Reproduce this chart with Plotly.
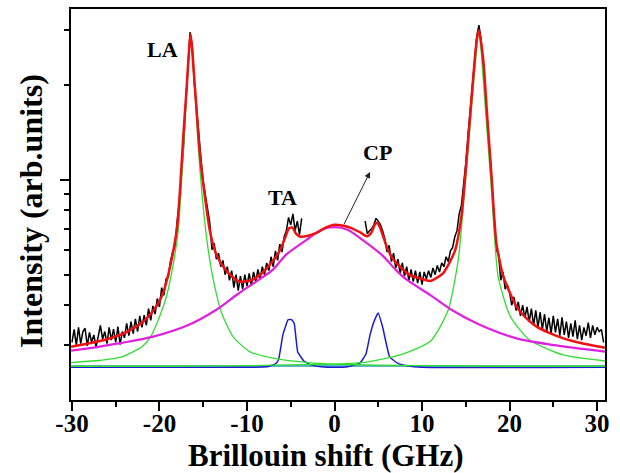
import math
import plotly.graph_objects as go

# ---------------- data ----------------
# measured spectrum (black), left and right of the removed central region
data_x_left = [-30.0, -29.75, -29.5, -29.25, -29.0, -28.75, -28.5, -28.25, -28.0, -27.75,
               -27.5, -27.25, -27.0, -26.75, -26.5, -26.25, -26.0, -25.75, -25.5, -25.25,
               -25.0, -24.75, -24.5, -24.25, -24.0, -23.75, -23.5, -23.25, -23.0, -22.75,
               -22.5, -22.25, -22.0, -21.75, -21.5, -21.25, -21.0, -20.75, -20.5, -20.25,
               -20.0, -19.75, -19.5, -19.25, -19.0, -18.75, -18.5, -18.25, -18.0, -17.75,
               -17.5, -17.25, -17.0, -16.75, -16.5, -16.25, -16.0, -15.75, -15.5, -15.25,
               -15.0, -14.75, -14.5, -14.25, -14.0, -13.75, -13.5, -13.25, -13.0, -12.75,
               -12.5, -12.25, -12.0, -11.75, -11.5, -11.25, -11.0, -10.75, -10.5, -10.25,
               -10.0, -9.75, -9.5, -9.25, -9.0, -8.75, -8.5, -8.25, -8.0, -7.75,
               -7.5, -7.25, -7.0, -6.75, -6.5, -6.25, -6.0, -5.75, -5.5, -5.25,
               -5.0, -4.75, -4.5, -4.25, -4.0, -3.75]
data_y_left = [3.05, 3.35, 2.98, 3.40, 3.02, 3.30, 3.38, 2.97, 3.28, 3.05,
               3.22, 2.95, 3.18, 3.45, 3.12, 3.30, 3.02, 3.40, 3.10, 3.36,
               3.05, 3.42, 3.00, 3.30, 3.15, 3.50, 3.20, 3.55, 3.25, 3.62,
               3.30, 3.70, 3.40, 3.72, 3.45, 3.90, 3.58, 3.98, 3.75, 4.20,
               3.95, 4.55, 4.30, 4.85, 4.90, 5.50, 5.90, 6.10, 7.30, 8.4,
               10.4, 12.8, 17.5, 22.5, 29.5, 26.5, 20.0, 16.8, 13.5, 11.6,
               9.9, 8.9, 7.9, 7.3, 6.0, 6.3, 5.6, 5.85, 5.3, 5.55,
               5.0, 5.3, 4.8, 5.15, 4.55, 5.0, 4.45, 4.95, 4.5, 5.0,
               4.6, 5.05, 4.62, 5.1, 4.75, 5.2, 4.85, 5.3, 5.0, 5.45,
               5.15, 5.7, 5.3, 5.95, 5.55, 6.25, 5.9, 6.6, 6.9, 7.6,
               7.2, 7.8, 6.9, 7.4, 6.7, 7.55]
data_x_right = [3.5, 3.75, 4.0, 4.25, 4.5, 4.75, 5.0, 5.25, 5.5, 5.75,
                6.0, 6.25, 6.5, 6.75, 7.0, 7.25, 7.5, 7.75, 8.0, 8.25,
                8.5, 8.75, 9.0, 9.25, 9.5, 9.75, 10.0, 10.25, 10.5, 10.75,
                11.0, 11.25, 11.5, 11.75, 12.0, 12.25, 12.5, 12.75, 13.0, 13.25,
                13.5, 13.75, 14.0, 14.25, 14.5, 14.75, 15.0, 15.25, 15.5, 15.75,
                16.0, 16.25, 16.5, 16.75, 17.0, 17.25, 17.5, 17.75, 18.0, 18.25,
                18.5, 18.75, 19.0, 19.25, 19.5, 19.75, 20.0, 20.25, 20.5, 20.75,
                21.0, 21.25, 21.5, 21.75, 22.0, 22.25, 22.5, 22.75, 23.0, 23.25,
                23.5, 23.75, 24.0, 24.25, 24.5, 24.75, 25.0, 25.25, 25.5, 25.75,
                26.0, 26.25, 26.5, 26.75, 27.0, 27.25, 27.5, 27.75, 28.0, 28.25,
                28.5, 28.75, 29.0, 29.25, 29.5, 29.75, 30.0, 30.25, 30.5, 30.75]
data_y_right = [7.4, 6.75, 6.9, 7.0, 7.2, 7.55, 7.4, 7.2, 6.9, 6.5,
                5.9, 6.2, 5.5, 5.85, 5.25, 5.6, 5.05, 5.45, 4.95, 5.3,
                4.8, 5.2, 4.75, 5.15, 4.7, 5.1, 4.65, 5.1, 4.85, 5.15,
                4.9, 5.25, 5.0, 5.35, 5.1, 5.45, 5.3, 5.7, 5.5, 5.95,
                6.1, 6.6, 6.9, 7.8, 8.3, 9.5, 11.3, 13.8, 16.6, 20.5,
                24.8, 28.5, 31.0, 28.0, 22.5, 18.8, 14.5, 12.3, 9.6, 7.8,
                6.0, 5.8, 4.8, 5.1, 4.5, 4.65, 4.4, 4.0, 4.25, 3.85,
                4.1, 3.7, 4.0, 3.65, 3.95, 3.55, 3.9, 3.45, 3.85, 3.40,
                3.80, 3.35, 3.75, 3.30, 3.65, 3.25, 3.70, 3.28, 3.62, 3.20,
                3.66, 3.22, 3.55, 3.15, 3.50, 3.18, 3.58, 3.12, 3.45, 3.10,
                3.40, 3.20, 3.52, 3.15, 3.45, 3.22, 3.40, 3.30, 3.35, 3.05]

# cumulative fit (red)
fit_x = [-30.1, -28, -26, -24, -22, -21, -20, -19.5, -19, -18.5,
         -18, -17.6, -17.3, -16.9, -16.45, -15.95, -15.4, -14.8, -14.2, -13.5,
         -12.5, -11.5, -10.8, -9.5, -8.5, -7.0, -6.2, -5.6, -5.2, -4.8,
         -4.4, -3.9, -3, -2, -1, 0, 1, 2, 3, 3.7,
         4.2, 4.6, 4.9, 5.3, 6.0, 6.7, 7.5, 8.5, 9.8, 11.0,
         12.4, 13.2, 13.8, 14.5, 15.1, 15.7, 16.25, 16.5, 17.0, 17.4,
         17.95, 18.5, 19.3, 20.8, 22, 23.1, 24.6, 26.15, 28, 30.9]
fit_y = [2.95, 3.03, 3.12, 3.26, 3.52, 3.75, 4.12, 4.45, 5.0, 5.8,
         7.0, 9.8, 13.5, 19.5, 29.0, 19.7, 12.2, 8.8, 6.8, 5.8,
         5.2, 4.88, 4.75, 4.8, 5.0, 5.55, 6.0, 6.6, 7.02, 7.05,
         6.75, 6.6, 6.65, 6.8, 7.05, 7.2, 7.15, 7.02, 6.8, 6.62,
         6.8, 7.2, 7.32, 6.95, 6.1, 5.6, 5.3, 5.0, 4.86, 4.78,
         5.05, 5.5, 6.0, 7.65, 11.6, 18.8, 27.8, 29.9, 24.0, 16.7,
         10.2, 6.3, 4.93, 3.96, 3.62, 3.42, 3.26, 3.14, 3.04, 2.93]

# LA components (green)
la_left_x = [-30.1, -27, -24.5, -22, -21, -20.3, -19.2, -18.4, -17.85, -17.3,
             -16.9, -16.45, -15.95, -15.4, -14.6, -13.85, -12.9, -11.6, -9.7, -6.6,
             -3, 0, 5, 10, 20, 30.9]
la_left_y = [2.63, 2.67, 2.73, 2.95, 3.18, 3.5, 4.27, 5.45, 6.94, 12.0,
             19.0, 28.5, 19.0, 11.0, 6.5, 4.82, 3.78, 3.18, 2.85, 2.7,
             2.63, 2.6, 2.58, 2.57, 2.56, 2.56]
la_right_x = [-30.1, -20, -10, -3.9, 0, 3.7, 7.5, 11.0, 13.0, 14.15,
              14.9, 15.7, 16.5, 17.3, 17.96, 18.7, 20.1, 22.3, 26.15, 30.9]
la_right_y = [2.56, 2.56, 2.57, 2.59, 2.6, 2.64, 2.78, 3.08, 3.87, 5.6,
              9.5, 17.5, 29.3, 16.0, 9.07, 4.93, 3.68, 3.1, 2.78, 2.66]

# central peak component (magenta)
cp_x = [-30.1, -27, -24.5, -20.7, -16.9, -13.5, -11, -8.25, -7, -5.5,
        -3.2, -1.5, 0, 1.5, 3.2, 5.5, 7, 8.25, 11, 13.5,
        16.6, 20.8, 26.15, 30.9]
cp_y = [2.87, 2.95, 3.03, 3.18, 3.44, 3.87, 4.35, 4.9, 5.2, 5.8,
        6.45, 6.95, 7.08, 6.95, 6.45, 5.75, 5.18, 4.82, 4.3, 3.85,
        3.47, 3.14, 2.96, 2.85]

# TA components (blue)
ta_x = [-30.1, -10, -7.7, -6.8, -6.4, -5.9, -5.3, -4.9, -4.6, -4.2,
        -3.5, -2.8, -1.5, 0, 1.5, 2.9, 3.6, 4.06, 4.6, 5.0,
        5.5, 6.3, 7.2, 8.3, 10, 30.9]
ta_y = [2.54, 2.54, 2.55, 2.6, 2.68, 3.22, 3.6, 3.6, 3.5, 2.84,
        2.66, 2.59, 2.55, 2.54, 2.55, 2.62, 2.8, 3.22, 3.6, 3.78,
        3.41, 2.74, 2.62, 2.57, 2.54, 2.54]

# baseline (dark cyan)
base_x = [-30.1, 30.9]
base_y = [2.565, 2.565]

# axis ticks
x_ticks = [-30, -20, -10, 0, 10, 20, 30]
x_tick_labels = ["-30", "-20", "-10", "0", "10", "20", "30"]
x_minor_ticks = [-25, -15, -5, 5, 15, 25]
y_major_ticks = [10]
y_minor_ticks = [3, 4, 5, 6, 7, 8, 9, 20, 30]

# peak labels
label_text = ["LA", "TA", "CP"]
label_x = [-19.6, -5.9, 4.86]
label_v = [25.9, 8.77, 12.2]
arrow_head = (4.06, 10.6)
arrow_tail = (1.0, 7.15)

FONT = "Liberation Serif, Times New Roman, serif"

fig = go.Figure()
fig.add_trace(go.Scatter(x=data_x_left, y=data_y_left, mode="lines",
                         line=dict(color="black", width=1.5)))
fig.add_trace(go.Scatter(x=data_x_right, y=data_y_right, mode="lines",
                         line=dict(color="black", width=1.5)))
fig.add_trace(go.Scatter(x=base_x, y=base_y, mode="lines",
                         line=dict(color="#2a9ab0", width=1.5)))
fig.add_trace(go.Scatter(x=ta_x, y=ta_y, mode="lines",
                         line=dict(color="#1c1cd0", width=1.5, shape="spline", smoothing=0.3)))
fig.add_trace(go.Scatter(x=la_left_x, y=la_left_y, mode="lines",
                         line=dict(color="#33dd33", width=1.3, shape="spline", smoothing=0.6)))
fig.add_trace(go.Scatter(x=la_right_x, y=la_right_y, mode="lines",
                         line=dict(color="#33dd33", width=1.3, shape="spline", smoothing=0.6)))
fig.add_trace(go.Scatter(x=cp_x, y=cp_y, mode="lines",
                         line=dict(color="#e020e0", width=2.2, shape="spline", smoothing=0.8)))
fig.add_trace(go.Scatter(x=fit_x, y=fit_y, mode="lines",
                         line=dict(color="#ee1111", width=2.5, shape="spline", smoothing=0.6)))

annotations = []
for t, lx, lv in zip(label_text, label_x, label_v):
    annotations.append(dict(x=lx, y=math.log10(lv), xref="x", yref="y", text=t,
                            showarrow=False, xanchor="center", yanchor="middle",
                            font=dict(family=FONT, size=22, color="black", weight="bold")))
annotations.append(dict(x=arrow_head[0], y=math.log10(arrow_head[1]), xref="x", yref="y",
                        ax=arrow_tail[0], ay=math.log10(arrow_tail[1]), axref="x", ayref="y",
                        text="", showarrow=True, arrowhead=2, arrowsize=1.2,
                        arrowwidth=1, arrowcolor="#222222"))
annotations.append(dict(x=0.4766, y=-0.142, xref="paper", yref="paper",
                        text="Brillouin shift (GHz)", showarrow=False,
                        xanchor="center", yanchor="middle",
                        font=dict(family=FONT, size=31, color="black", weight="bold")))
annotations.append(dict(x=-0.075, y=0.4834, xref="paper", yref="paper",
                        text="Intensity (arb.units)", showarrow=False, textangle=-90,
                        xanchor="center", yanchor="middle",
                        font=dict(family=FONT, size=32, color="black", weight="bold")))

fig.update_layout(
    width=620, height=473,
    margin=dict(l=71, r=15, t=9, b=73),
    paper_bgcolor="white", plot_bgcolor="white",
    showlegend=False,
    annotations=annotations,
    xaxis=dict(range=[-30.11, 30.91], showgrid=False, zeroline=False, automargin=False,
               showline=True, linecolor="black", linewidth=2, mirror=True,
               ticks="outside", ticklen=9, tickwidth=2, tickcolor="black",
               tickmode="array", tickvals=x_ticks, ticktext=x_tick_labels,
               ticklabelstandoff=-9,
               tickfont=dict(family=FONT, size=25, color="black", weight="bold"),
               minor=dict(tickmode="array", tickvals=x_minor_ticks, ticks="outside",
                          ticklen=5, tickwidth=2, tickcolor="black", showgrid=False)),
    yaxis=dict(type="log", range=[math.log10(2.0), math.log10(34.9)],
               showgrid=False, zeroline=False, automargin=False,
               showline=True, linecolor="black", linewidth=2, mirror=True,
               ticks="outside", ticklen=9, tickwidth=2, tickcolor="black",
               tickmode="array", tickvals=y_major_ticks, showticklabels=False,
               minor=dict(tickmode="array", tickvals=y_minor_ticks, ticks="outside",
                          ticklen=5, tickwidth=2, tickcolor="black", showgrid=False)),
)

fig.write_html("out.html", config={"displayModeBar": False},
               post_script="document.body.style.margin='0px';")
